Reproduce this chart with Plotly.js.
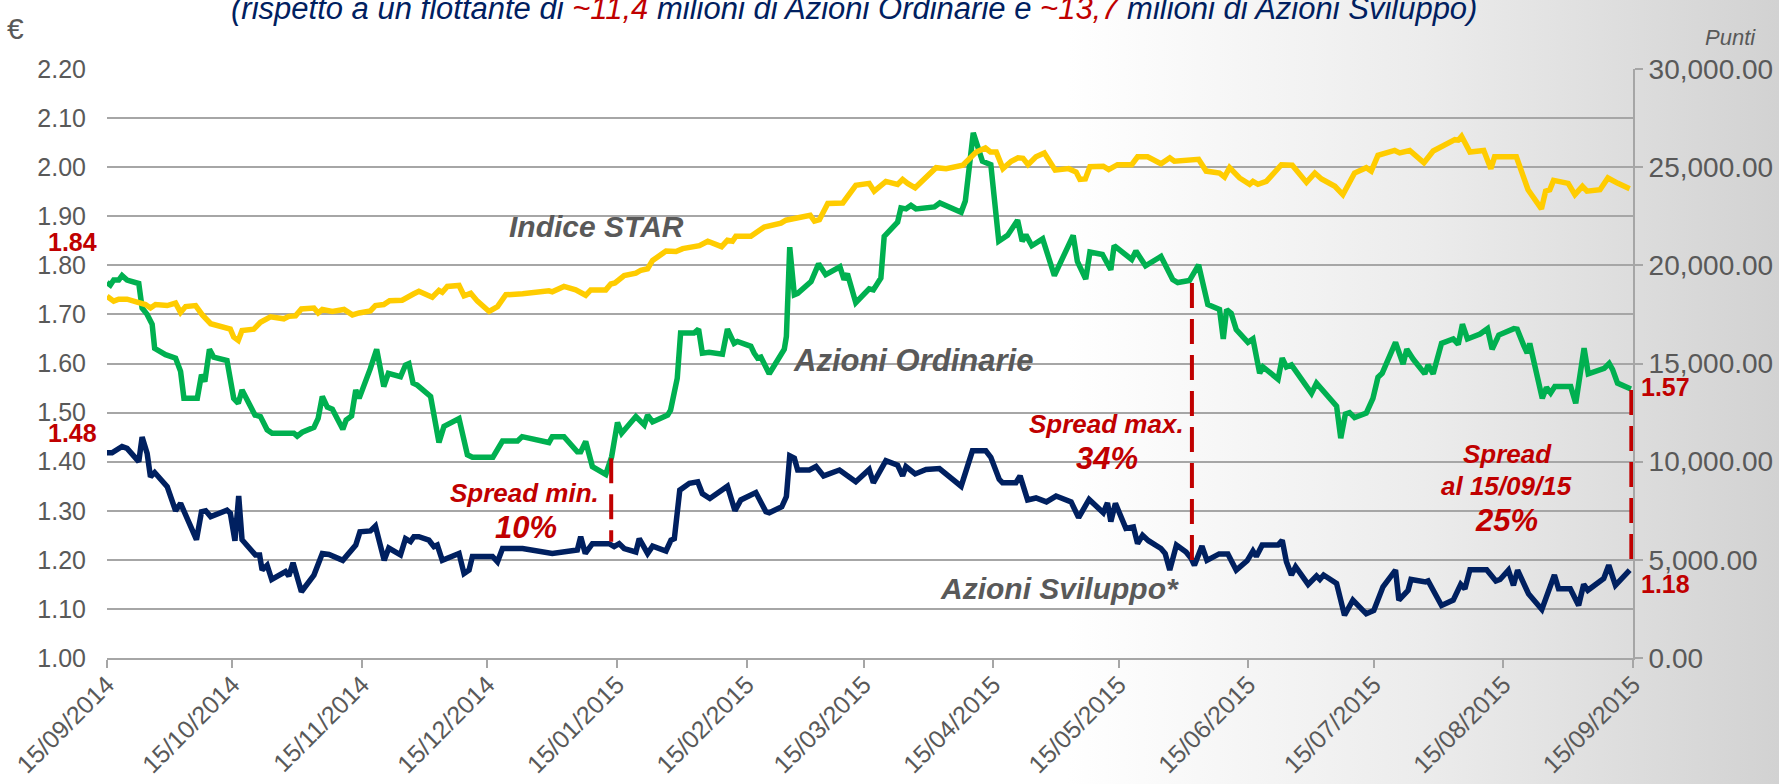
<!DOCTYPE html>
<html>
<head>
<meta charset="utf-8">
<script src="https://cdn.plot.ly/plotly-3.0.1.min.js"></script>
<style>
  body { margin: 0; }
  #chart {
    width: 1779px; height: 784px;
    background: linear-gradient(to right, #ffffff 0%, #ffffff 60%, #ececec 80%, #d2d2d2 100%);
  }
</style>
</head>
<body>
<div id="chart"></div>
<script>
// days counted from 15/09/2014

var ordDays = [0,0.8,1.6,2.8,3.6,4.8,7.6,8.4,9.6,10.8,
  11.4,14.0,16.4,17.6,18.4,21.6,22.6,23.4,24.5,25.5,
  28.7,30.3,31.4,32.3,35.4,36.7,38.3,39.5,44.7,45.5,
  46.7,49.5,50.5,51.5,52.7,53.9,56.4,57.2,58.5,59.5,
  60.3,61.4,63.0,64.5,66.2,67.3,70.2,71.4,72.2,73.2,
  74.2,77.4,79.4,80.6,84.2,86.2,87.4,92.3,94.6,98.2,
  99.3,105.7,106.5,109.3,112.5,113.3,114.5,116.1,119.3,120.7,
  122.1,123.1,126.5,128.5,129.3,130.5,134.1,134.8,136.4,137.2,
  140.4,141.5,142.4,144.0,147.2,148.4,150.0,150.8,154.0,154.8,
  155.6,156.4,158.4,162.0,162.5,163.3,164.4,165.2,168.4,170.2,
  171.9,175.3,176.3,177.1,179.1,182.3,183.3,185.1,185.9,189.1,
  189.9,191.1,192.3,193.5,197.9,199.2,204.3,205.3,207.2,209.4,
  210.4,211.4,213.3,215.4,217.8,218.9,219.8,221.2,223.8,226.6,
  231.1,232.1,234.1,235.1,238.1,240.1,240.9,242.9,245.1,246.1,
  248.4,252.1,254.9,256.1,258.9,261.1,263.3,266.1,267.0,267.8,
  268.9,270.1,272.9,274.1,275.7,276.5,278.9,280.1,281.1,282.1,
  283.3,288.1,289.3,294.1,295.1,296.2,297.2,298.4,301.2,302.8,
  304.0,305.0,308.2,310.0,310.9,312.4,315.2,316.0,317.2,319.2,
  322.0,323.2,324.2,325.4,328.4,330.2,331.3,332.9,336.5,337.3,
  338.9,339.7,340.3,343.3,344.3,345.3,346.3,350.1,351.3,353.3,
  354.3,355.7,358.1,359.3,360.1,361.3,363.3,364.5];
var ordValues = [1.765,1.76,1.77,1.77,1.779,1.77,1.763,1.713,1.70,1.68,
  1.631,1.618,1.611,1.584,1.529,1.529,1.577,1.563,1.629,1.613,
  1.606,1.529,1.519,1.546,1.495,1.492,1.465,1.458,1.458,1.452,
  1.46,1.47,1.488,1.533,1.511,1.507,1.466,1.485,1.493,1.546,
  1.529,1.553,1.59,1.629,1.553,1.58,1.573,1.597,1.60,1.56,
  1.556,1.533,1.439,1.472,1.488,1.414,1.409,1.409,1.442,1.442,
  1.451,1.439,1.451,1.451,1.42,1.42,1.441,1.39,1.374,1.41,
  1.48,1.458,1.492,1.475,1.495,1.481,1.495,1.505,1.57,1.662,
  1.662,1.67,1.621,1.623,1.619,1.67,1.641,1.645,1.635,1.621,
  1.611,1.613,1.579,1.629,1.655,1.837,1.74,1.743,1.767,1.803,
  1.781,1.797,1.771,1.783,1.724,1.752,1.75,1.774,1.859,1.888,
  1.917,1.915,1.922,1.915,1.919,1.927,1.908,1.931,2.07,2.012,
  2.009,2.005,1.849,1.861,1.892,1.849,1.862,1.84,1.854,1.779,
  1.861,1.808,1.772,1.827,1.822,1.791,1.84,1.825,1.812,1.829,
  1.799,1.818,1.771,1.765,1.769,1.801,1.72,1.71,1.65,1.71,
  1.702,1.669,1.643,1.65,1.58,1.593,1.577,1.568,1.611,1.593,
  1.597,1.539,1.56,1.513,1.448,1.497,1.50,1.49,1.499,1.529,
  1.572,1.58,1.643,1.599,1.629,1.609,1.579,1.597,1.579,1.641,
  1.65,1.639,1.68,1.65,1.66,1.671,1.629,1.658,1.671,1.67,
  1.636,1.621,1.641,1.529,1.551,1.54,1.553,1.553,1.519,1.631,
  1.579,1.584,1.59,1.60,1.588,1.56,1.552,1.548];

var svilDays = [0,1.2,3.6,4.8,7.6,8.4,9.6,10.4,11.4,14.4,
  16.4,17.6,21.4,22.6,23.6,24.8,28.7,29.5,30.6,31.5,
  32.3,35.5,36.5,37.1,38.3,39.4,42.7,43.5,44.5,46.5,
  49.5,51.5,53.1,56.4,59.5,60.5,63.0,64.2,66.3,67.4,
  70.2,71.4,72.6,73.4,74.6,77.0,78.2,79.0,80.2,84.2,
  85.4,86.6,87.4,92.2,93.4,94.6,99.4,106.5,112.5,113.3,
  114.4,116.1,120.1,121.3,122.5,123.7,126.5,127.3,129.3,130.5,
  133.7,134.9,135.7,137.0,139.3,141.3,142.4,144.2,148.4,150.2,
  151.6,155.2,157.6,158.4,161.4,162.5,163.3,164.4,165.2,168.0,
  169.6,171.4,175.2,179.1,182.3,183.3,186.3,189.1,190.3,191.1,
  193.3,195.9,199.1,204.3,207.0,210.2,211.4,213.4,214.2,217.4,
  218.4,220.2,222.2,224.7,227.0,230.6,232.4,234.9,238.3,239.3,
  240.1,241.2,243.7,245.5,246.5,247.7,249.1,252.1,253.1,254.2,
  255.8,258.1,259.3,260.1,261.9,263.1,266.0,268.1,270.1,272.7,
  274.1,274.9,276.3,280.1,281.1,282.1,283.3,284.3,287.3,289.3,
  290.1,291.0,294.1,296.0,298.0,301.2,303.0,305.2,308.2,309.0,
  311.2,311.9,315.4,316.0,319.2,322.0,323.8,324.8,326.0,330.0,
  332.2,333.2,335.2,336.4,337.4,340.0,343.2,346.2,347.2,350.0,
  352.0,353.2,354.2,358.0,359.2,360.8,364.2];
var svilValues = [1.418,1.418,1.431,1.427,1.40,1.45,1.417,1.369,1.378,1.349,
  1.30,1.315,1.241,1.298,1.30,1.288,1.301,1.295,1.239,1.33,
  1.241,1.21,1.21,1.179,1.189,1.16,1.176,1.167,1.194,1.135,
  1.169,1.213,1.211,1.199,1.23,1.257,1.259,1.269,1.199,1.224,
  1.21,1.243,1.237,1.247,1.247,1.24,1.227,1.23,1.199,1.213,
  1.172,1.179,1.207,1.207,1.196,1.223,1.223,1.213,1.22,1.247,
  1.213,1.233,1.233,1.227,1.233,1.223,1.216,1.243,1.213,1.228,
  1.218,1.24,1.243,1.342,1.356,1.359,1.335,1.325,1.35,1.30,
  1.322,1.337,1.298,1.296,1.308,1.329,1.412,1.407,1.383,1.383,
  1.39,1.371,1.383,1.359,1.384,1.357,1.402,1.393,1.371,1.39,
  1.375,1.384,1.386,1.35,1.422,1.422,1.409,1.364,1.357,1.357,
  1.371,1.322,1.326,1.318,1.33,1.318,1.286,1.323,1.296,1.316,
  1.278,1.315,1.264,1.267,1.233,1.25,1.239,1.223,1.213,1.179,
  1.23,1.216,1.203,1.189,1.228,1.199,1.212,1.212,1.179,1.198,
  1.218,1.207,1.23,1.23,1.24,1.196,1.169,1.186,1.15,1.167,
  1.16,1.169,1.152,1.087,1.118,1.09,1.097,1.145,1.179,1.118,
  1.138,1.16,1.155,1.157,1.107,1.118,1.15,1.141,1.18,1.18,
  1.157,1.16,1.179,1.148,1.179,1.131,1.099,1.169,1.141,1.141,
  1.107,1.15,1.138,1.162,1.189,1.148,1.179];

var starDays = [0,1.6,2.8,4.8,7.6,9.2,10.4,11.6,14.4,16.4,
  17.6,18.8,21.2,22.8,24.8,28.3,29.5,30.3,31.4,32.3,
  35.1,36.7,39.1,42.3,43.5,45.1,46.5,49.5,50.5,51.5,
  53.9,56.7,58.7,60.3,63.0,64.2,66.2,67.6,70.6,73.4,
  74.6,77.8,79.4,80.2,81.4,84.2,85.4,87.0,88.6,91.4,
  93.4,95.4,99.4,105.7,106.5,109.3,112.1,114.5,115.7,119.3,
  120.5,121.5,123.7,126.5,127.7,129.3,130.5,133.7,136.1,137.7,
  141.7,143.7,147.0,148.4,149.6,150.4,154.0,157.2,161.2,162.4,
  164.4,165.6,168.2,169.2,170.4,172.4,176.0,179.1,182.3,183.5,
  186.3,189.1,190.3,191.5,193.3,198.3,200.7,204.7,206.3,207.9,
  210.1,211.3,212.7,214.3,216.3,217.9,219.1,220.3,222.2,224.2,
  226.8,230.0,231.8,232.7,234.0,235.1,238.3,239.6,241.7,245.1,
  246.5,248.9,252.1,254.2,255.3,259.7,261.1,262.9,266.1,267.3,
  268.5,270.9,273.3,274.1,275.3,277.3,280.9,283.5,286.9,288.9,
  290.5,293.7,295.6,298.4,301.2,302.4,304.0,308.0,309.2,311.6,
  315.0,317.2,322.4,323.2,324.0,326.0,329.3,331.0,331.9,337.1,
  339.9,343.1,344.1,345.1,346.0,349.5,351.1,352.9,354.0,357.1,
  359.0,361.4,364.2];
var starPoints = [18425,18175,18275,18275,18100,18000,17825,18000,17950,18075,
  17600,17900,17950,17475,17025,16800,16750,16350,16175,16675,
  16750,17100,17375,17275,17400,17425,17775,17825,17575,17750,
  17650,17750,17475,17575,17675,17950,18000,18200,18225,18550,
  18675,18375,18725,18625,18925,18975,18450,18575,18175,17650,
  17900,18500,18550,18700,18650,18925,18750,18475,18750,18750,
  19050,19100,19475,19600,19750,19825,20250,20725,20700,20850,
  21000,21225,20950,21275,21225,21475,21475,21950,22150,22300,
  22375,22475,22550,22250,22325,23150,23175,24075,24175,23775,
  24275,24125,24375,24175,23950,24975,24925,25100,25400,25775,
  25975,25775,25775,24925,25300,25475,25450,25125,25525,25725,
  24850,24925,24750,24375,24400,25025,25050,24875,25125,25125,
  25525,25525,25175,25475,25300,25350,25400,24800,24700,24500,
  24975,24450,24125,24275,24125,24275,25125,25100,24225,24700,
  24400,24025,23600,24700,24975,24800,25600,25850,25725,25850,
  25225,25825,26400,26375,26575,25775,25850,24925,25525,25525,
  23850,22875,23775,23850,24325,24175,23600,24025,23775,23850,
  24450,24175,23900];

// spread markers: day, top (Ordinarie) and bottom (Sviluppo)
var spreadDays = [120.6, 259.5, 364.6];
var spreadTop = [1.407, 1.764, 1.546];
var spreadBottom = [1.237, 1.199, 1.199];

var tickDates = ['2014-09-15','2014-10-15','2014-11-15','2014-12-15','2015-01-15','2015-02-15',
  '2015-03-15','2015-04-15','2015-05-15','2015-06-15','2015-07-15','2015-08-15','2015-09-15'];
var tickLabels = ['15/09/2014','15/10/2014','15/11/2014','15/12/2014','15/01/2015','15/02/2015',
  '15/03/2015','15/04/2015','15/05/2015','15/06/2015','15/07/2015','15/08/2015','15/09/2015'];

var start = Date.UTC(2014, 8, 15);
function toDate(d) {
  return new Date(start + d * 86400000).toISOString().slice(0, 16).replace('T', ' ');
}

var font = 'Liberation Sans, Arial, sans-serif';
var grey = '#595959';
var red = '#C00000';

var traces = [
  {x: ordDays.map(toDate), y: ordValues, mode: 'lines', type: 'scatter',
   line: {color: '#00B050', width: 5.5}, name: 'Azioni Ordinarie'},
  {x: svilDays.map(toDate), y: svilValues, mode: 'lines', type: 'scatter',
   line: {color: '#002060', width: 5.5}, name: 'Azioni Sviluppo'}
];

for (var i = 0; i < spreadDays.length; i++) {
  traces.push({
    x: [toDate(spreadDays[i]), toDate(spreadDays[i])],
    y: [spreadTop[i], spreadBottom[i]],
    mode: 'lines', type: 'scatter',
    line: {color: red, width: 4, dash: '25px,11px'}
  });
}

traces.push({x: starDays.map(toDate), y: starPoints, mode: 'lines', type: 'scatter', yaxis: 'y2',
  line: {color: '#FFCC00', width: 5.5}, name: 'Indice STAR'});

function label(text, x, y, size, color, opts) {
  var a = {text: text, x: x, y: y, xref: 'paper', yref: 'paper', showarrow: false,
    xanchor: 'center', yanchor: 'middle', font: {family: font, size: size, color: color}};
  for (var k in opts) a[k] = opts[k];
  return a;
}

var annotations = [
  label('<i>(rispetto a un flottante di <span style="color:' + red + '">~11,4</span> milioni di Azioni Ordinarie e <span style="color:' + red + '">~13,7</span> milioni di Azioni Sviluppo)</i>',
    0.4895, 1.07, 31, '#002060', {yanchor: 'bottom'}),
  label('€', -0.06, 1.068, 30, grey),
  label('<i>Punti</i>', 1.0636, 1.054, 22, grey),
  label('<b><i>Indice STAR</i></b>', 0.3205, 0.7326, 30, grey),
  label('<b><i>Azioni Ordinarie</i></b>', 0.5285, 0.5054, 31, grey),
  label('<b><i>Azioni Sviluppo*</i></b>', 0.6245, 0.1183, 30, grey),
  label('<b><i>Spread min.</i></b>', 0.2737, 0.2797, 26, red),
  label('<b><i>10%</i></b>', 0.2744, 0.2224, 31, red),
  label('<b><i>Spread max.</i></b>', 0.6549, 0.3973, 26, red),
  label('<b><i>34%</i></b>', 0.6551, 0.3379, 31, red),
  label('<b><i>Spread</i></b>', 0.9178, 0.3463, 26, red),
  label('<b><i>al 15/09/15</i></b>', 0.9174, 0.2925, 26, red),
  label('<b><i>25%</i></b>', 0.9172, 0.2331, 31, red),
  label('<b>1.84</b>', -0.0229, 0.7063, 25, red),
  label('<b>1.48</b>', -0.0229, 0.382, 25, red),
  label('<b>1.57</b>', 1.021, 0.4601, 25, red),
  label('<b>1.18</b>', 1.021, 0.1256, 25, red)
];

var layout = {
  width: 1779, height: 784,
  margin: {l: 107, r: 146, t: 69, b: 126},
  paper_bgcolor: 'rgba(0,0,0,0)',
  plot_bgcolor: 'rgba(0,0,0,0)',
  showlegend: false,
  font: {family: font, color: grey},
  xaxis: {
    type: 'date', range: [toDate(0), toDate(365)],
    tickvals: tickDates, ticktext: tickLabels, tickangle: -45,
    tickfont: {size: 25, color: grey},
    ticks: 'outside', ticklen: 8, tickwidth: 2, tickcolor: '#A6A6A6',
    ticklabelstandoff: -8,
    showline: true, linecolor: '#A6A6A6', linewidth: 2,
    showgrid: false, zeroline: false
  },
  yaxis: {
    range: [1.0, 2.2], dtick: 0.1, tick0: 1.0, tickformat: '.2f',
    tickfont: {size: 25, color: grey},
    gridcolor: '#A6A6A6', gridwidth: 2,
    showline: false, zeroline: false, ticks: '', ticklabelstandoff: 20
  },
  yaxis2: {
    overlaying: 'y', side: 'right',
    range: [0, 30000], dtick: 5000, tickformat: ',.2f',
    tickfont: {size: 28, color: grey},
    showgrid: false, zeroline: false,
    showline: true, linecolor: '#A6A6A6', linewidth: 2,
    ticks: 'outside', ticklen: 8, tickwidth: 2, tickcolor: '#A6A6A6'
  },
  annotations: annotations
};

Plotly.newPlot('chart', traces, layout, {displayModeBar: false, staticPlot: true});
</script>
</body>
</html>
